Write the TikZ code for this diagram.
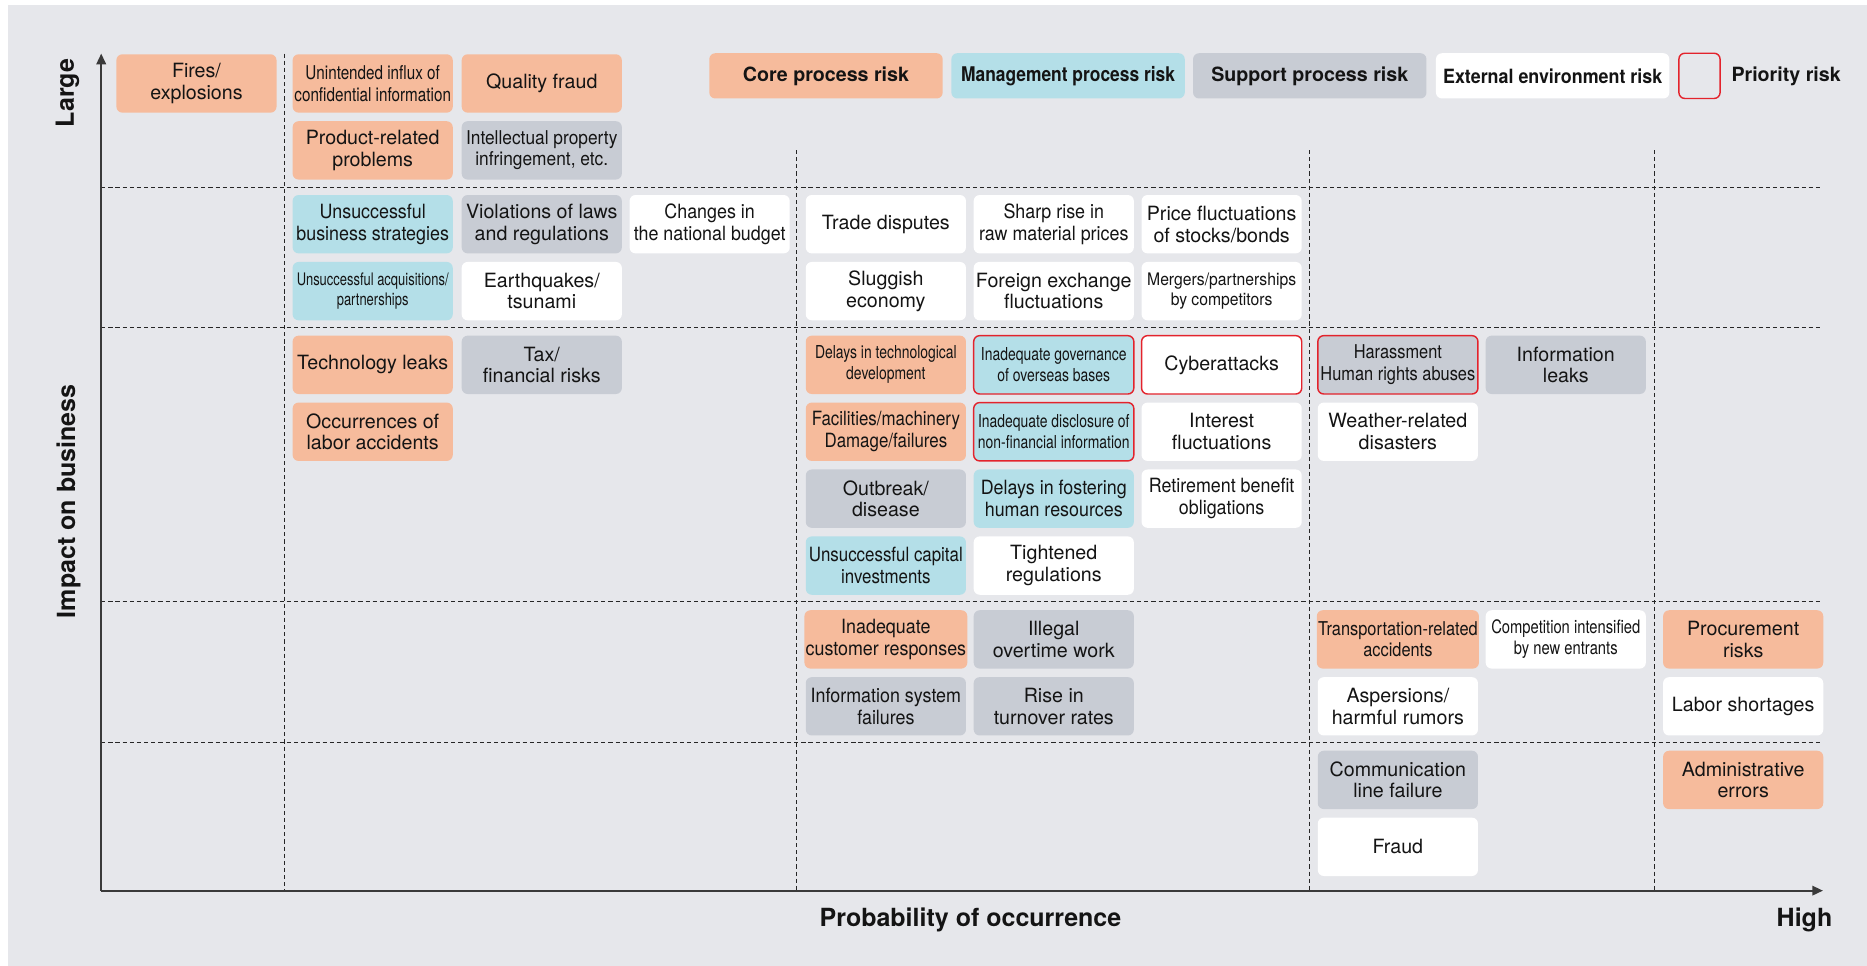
\documentclass[tikz,border=0pt]{standalone}
\usepackage{fontspec}
\setmainfont{TeX Gyre Heros}
\newfontfamily\hvA[FakeStretch=0.91]{TeX Gyre Heros}
\newfontfamily\hvB[FakeStretch=0.86]{TeX Gyre Heros}
\newfontfamily\hvC[FakeStretch=0.80]{TeX Gyre Heros}
\newfontfamily\hvD[FakeStretch=0.78]{TeX Gyre Heros}
\newfontfamily\hvE[FakeStretch=0.75]{TeX Gyre Heros}
\usetikzlibrary{arrows.meta}
\definecolor{bgC}{HTML}{E6E7EB}
\definecolor{coreC}{HTML}{F6BB9C}
\definecolor{mgmtC}{HTML}{B4DFE8}
\definecolor{suppC}{HTML}{C8CCD4}
\definecolor{prioC}{HTML}{E3232C}
\definecolor{axisC}{HTML}{3A3A3A}
\definecolor{txtC}{HTML}{141414}
\newcommand{\szN}{\fontsize{16.5}{18.2}\selectfont}
\newcommand{\szR}{\fontsize{16}{18}\selectfont}
\newcommand{\szM}{\fontsize{15}{17.5}\selectfont}
\newcommand{\szS}{\fontsize{14.5}{17.5}\selectfont}
\newcommand{\szL}{\fontsize{16.5}{19}\selectfont\bfseries}
\newcommand{\szAx}{\fontsize{21}{24}\selectfont\bfseries}
\begin{document}
\begin{tikzpicture}[x=1pt,y=-1pt,
  box/.style={rounded corners=5pt, minimum width=134.5pt, minimum height=49pt,
    inner sep=1pt, align=center, font=\szN, text=txtC},
  core/.style={box, fill=coreC},
  mgmt/.style={box, fill=mgmtC},
  supp/.style={box, fill=suppC},
  ext/.style={box, fill=white},
  prio/.style={draw=prioC, line width=1.2pt},
  keybox/.style={rounded corners=5pt, minimum width=196pt, minimum height=38pt,
    inner sep=1pt, font=\szL, text=txtC},
  gridline/.style={draw=black!85, line width=0.8pt, dash pattern=on 3.5pt off 2.5pt},
  axisline/.style={draw=axisC, line width=1.6pt, -{Triangle[length=9pt,width=8pt]}},
  axlabel/.style={font=\szAx, text=txtC, inner sep=0pt}
]
\useasboundingbox (0,0) rectangle (1568,811);
\fill[white] (0,0) rectangle (1568,811);
\fill[bgC] (6.5,4.2) rectangle (1568,811);

% grid lines
\foreach \yy in {157.1,275.2,505.5,623.7}
  \draw[gridline] (85,\yy) -- (1530,\yy);
\draw[gridline] (239,45) -- (239,748);
\foreach \xx in {669,1100,1389.5}
  \draw[gridline] (\xx,126) -- (\xx,748);

% axes
\coordinate (O) at (85,748);
\coordinate (Yt) at (85,45);
\coordinate (Xt) at (1531,748);
\draw[axisline] (O) -- (Yt);
\draw[axisline] (O) -- (Xt);

\node[axlabel, rotate=90, anchor=base] (large) at (62,78) {Large};
\node[axlabel, rotate=90, anchor=base] (impact) at (63,421) {Impact on business};
\node[axlabel, anchor=base] (prob) at (815,778) {Probability of occurrence};
\node[axlabel, anchor=base] (high) at (1515.5,778) {High};

% legend
\node[keybox, fill=coreC] (kCore) at (693.7,63.7) {Core process risk};
\node[keybox, fill=mgmtC, font={\hvB\fontsize{17}{19}\selectfont\bfseries}] (kMgmt) at (897,63.7) {Management process risk};
\node[keybox, fill=suppC] (kSupp) at (1100,63.7) {Support process risk};
\node[keybox, fill=white, font={\hvA\fontsize{16.5}{19}\selectfont\bfseries}] (kExt) at (1304,63.7) {External environment risk};
\node[keybox, minimum width=34.6pt, prio] (kPrio) at (1427.3,63.7) {};
\node[font=\szL, text=txtC, anchor=west, inner sep=0pt] (kPrioT) at (1454,63.7) {Priority risk};

% band 1
\node[core] (fires) at (165,70.1) {Fires/\\explosions};
\node[core, font={\hvC\szR}] (influx) at (313,70.1) {Unintended influx of\\confidential information};
\node[core] (qfraud) at (455,70.1) {Quality fraud};
\node[core] (product) at (313,126.3) {Product-related\\problems};
\node[supp, font={\hvA\szR}] (ip) at (455,126.3) {Intellectual property\\infringement, etc.};

% band 2
\node[mgmt, font={\hvA\szN}] (strat) at (313,188.3) {Unsuccessful\\business strategies};
\node[supp] (laws) at (455,188.3) {Violations of laws\\and regulations};
\node[ext, font={\hvA\szN}] (budget) at (596,188.3) {Changes in\\the national budget};
\node[ext] (trade) at (744,188.3) {Trade disputes};
\node[ext, font={\hvA\szN}] (raw) at (885,188.3) {Sharp rise in\\raw material prices};
\node[ext] (stocks) at (1026,188.3) {Price fluctuations\\of stocks/bonds};
\node[mgmt, font={\hvE\szS}] (acq) at (313,244.5) {Unsuccessful acquisitions/\\partnerships};
\node[ext] (quake) at (455,244.5) {Earthquakes/\\tsunami};
\node[ext] (sluggish) at (744,244.5) {Sluggish\\economy};
\node[ext] (fx) at (885,244.5) {Foreign exchange\\fluctuations};
\node[ext, font={\hvA\szS}] (mergers) at (1026,244.5) {Mergers/partnerships\\by competitors};

% band 3
\node[core] (techleak) at (313,306.4) {Technology leaks};
\node[supp] (tax) at (455,306.4) {Tax/\\financial risks};
\node[core] (labor) at (313,362.6) {Occurrences of\\labor accidents};
\node[core, font={\hvD\szM}] (techdev) at (744,306.4) {Delays in technological\\development};
\node[mgmt, prio, font={\hvD\szM}] (gov) at (885,306.4) {Inadequate governance\\of overseas bases};
\node[ext, prio] (cyber) at (1026,306.4) {Cyberattacks};
\node[supp, prio, font={\hvB\szR}] (harass) at (1174,306.4) {Harassment\\Human rights abuses};
\node[supp] (infoleak) at (1315,306.4) {Information\\leaks};
\node[core, font={\hvB\szN}] (facil) at (744,362.6) {Facilities/machinery\\Damage/failures};
\node[mgmt, prio, font={\hvD\szM}] (disclose) at (885,362.6) {Inadequate disclosure of\\non-financial information};
\node[ext] (interest) at (1026,362.6) {Interest\\fluctuations};
\node[ext] (weather) at (1174,362.6) {Weather-related\\disasters};
\node[supp] (outbreak) at (744,418.8) {Outbreak/\\disease};
\node[mgmt, font={\hvA\szN}] (hr) at (885,418.8) {Delays in fostering\\human resources};
\node[ext, font={\hvA\szN}] (retire) at (1026,418.8) {Retirement benefit\\obligations};
\node[mgmt, font={\hvB\szN}] (capinv) at (744,475) {Unsuccessful capital\\investments};
\node[ext] (regs) at (885,475) {Tightened\\regulations};

% band 4
\node[core, font={\hvA\szN}] (cust) at (744,537) {Inadequate\\customer responses};
\node[supp] (overtime) at (885,537) {Illegal\\overtime work};
\node[core, font={\hvB\szR}] (transport) at (1174,537) {Transportation-related\\accidents};
\node[ext, font={\hvC\fontsize{15.5}{17.5}\selectfont}] (compet) at (1315,537) {Competition intensified\\by new entrants};
\node[core] (procure) at (1464,537) {Procurement\\risks};
\node[supp, font={\hvA\szN}] (infosys) at (744,593.2) {Information system\\failures};
\node[supp] (turnover) at (885,593.2) {Rise in\\turnover rates};
\node[ext] (aspers) at (1174,593.2) {Aspersions/\\harmful rumors};
\node[ext] (laborshort) at (1464,593.2) {Labor shortages};

% band 5
\node[supp] (comm) at (1174,655) {Communication\\line failure};
\node[core] (admin) at (1464,655) {Administrative\\errors};
\node[ext] (fraud) at (1174,711.2) {Fraud};
\end{tikzpicture}
\end{document}
